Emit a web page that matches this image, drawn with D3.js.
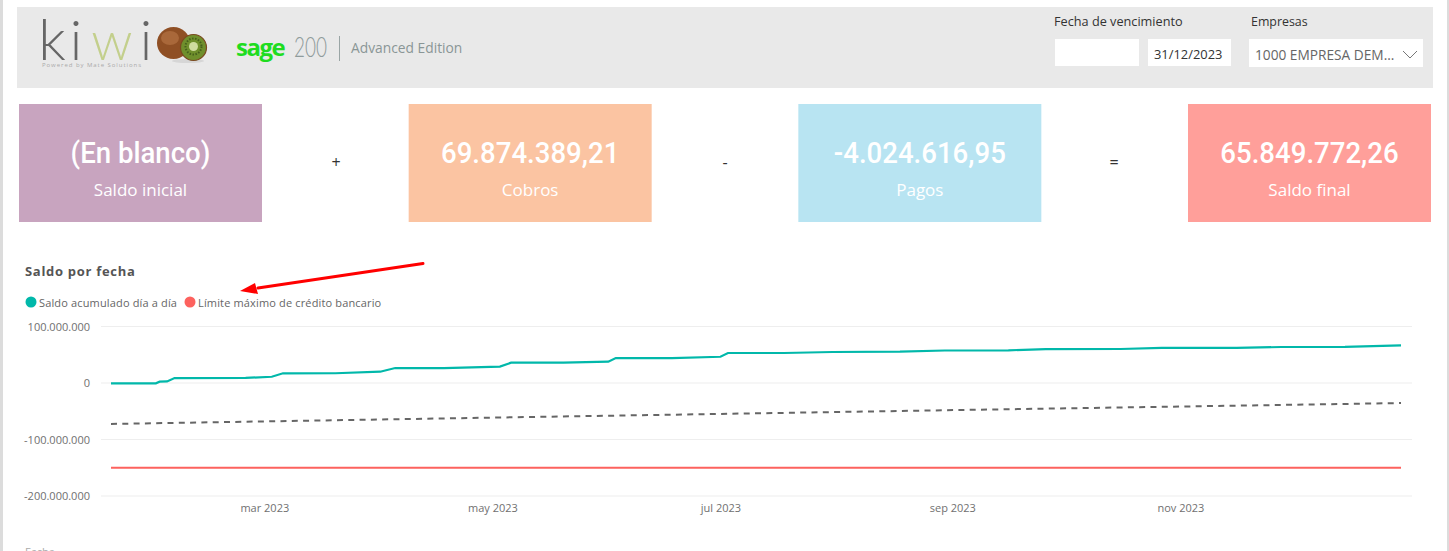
<!DOCTYPE html>
<html lang="es">

<head>
    <meta charset="UTF-8">
    <title>Saldo por fecha</title>
    <style>
        html, body { margin: 0; padding: 0; background: #fff; overflow: hidden; }
        svg { display: block; }
        .axis path, .axis line { display: none; }
        .axis text { font-family: "Open Sans", sans-serif; font-size: 11px; fill: #707070; }
    </style>
</head>

<body>
    <script src='https://d3js.org/d3.v7.min.js'></script>
    <script>
        // Data
        const cardTitles = ["Saldo inicial", "Cobros", "Pagos", "Saldo final"];
        const cardValues = ["(En blanco)", "69.874.389,21", "-4.024.616,95", "65.849.772,26"];
        const cardColors = ["#c8a4bf", "#fbc4a2", "#b8e4f2", "#ff9f9a"];
        const operators = ["+", "-", "="];

        const saldoDates = ["2023-01-19", "2023-01-31", "2023-02-01", "2023-02-03", "2023-02-05", "2023-02-24", "2023-03-03", "2023-03-06",
            "2023-03-20", "2023-04-01", "2023-04-05", "2023-04-18", "2023-04-28", "2023-05-03", "2023-05-06", "2023-05-20", "2023-06-01",
            "2023-06-03", "2023-06-18", "2023-07-01", "2023-07-03", "2023-07-18", "2023-07-31", "2023-08-18", "2023-08-30", "2023-09-16",
            "2023-09-26", "2023-10-16", "2023-10-27", "2023-11-16", "2023-11-28", "2023-12-15", "2023-12-30"];
        const saldoValues = [-0.5, -0.5, 2.3, 2.8, 8.8, 9, 11.1, 17.2,
            17.3, 20, 26.5, 26.5, 28, 29, 36, 36, 37.7,
            44.2, 44.2, 46.5, 53.1, 53.1, 54.9, 55.4, 57.5, 57.8,
            60, 60.2, 62, 62, 63.7, 63.9, 66.7];

        const trendDates = ["2023-01-19", "2023-04-28", "2023-09-03", "2023-12-30"];
        const trendValues = [-72.5, -61.6, -47.8, -35.5];

        const limiteDates = ["2023-01-19", "2023-12-30"];
        const limiteValues = [-150, -150];

        const yTicks = [100, 0, -100, -200];
        const yLabels = ["100.000.000", "0", "-100.000.000", "-200.000.000"];
        const xTicks = ["2023-03-01", "2023-05-01", "2023-07-01", "2023-09-01", "2023-11-01"];
        const xLabels = ["mar 2023", "may 2023", "jul 2023", "sep 2023", "nov 2023"];

        const legendNames = ["Saldo acumulado día a día", "Límite máximo de crédito bancario"];
        const legendColors = ["#01b8aa", "#fd625e"];

        const parseDay = d3.timeParse("%Y-%m-%d");
        const uiFont = '"Open Sans", sans-serif';

        const svg = d3.select("body").append("svg")
            .attr("width", 1449)
            .attr("height", 551);

        svg.append("rect").attr("width", 1449).attr("height", 551).attr("fill", "#fff");
        // window edges
        svg.append("rect").attr("x", 0).attr("width", 3).attr("height", 551).attr("fill", "#dcdcdc");
        svg.append("rect").attr("x", 1447).attr("width", 2).attr("height", 551).attr("fill", "#dcdcdc");

        // Header band
        svg.append("rect").attr("x", 17).attr("y", 7).attr("width", 1416).attr("height", 81).attr("fill", "#e9e9e9");

        // kiwi logo
        const logo = svg.append("g");
        [["k", 52, "#666", 58], ["i", 76, "#666", 56], ["w", 112, "#c3cf8c", 54], ["i", 146, "#666", 56]].forEach(l => {
            logo.append("text").attr("x", l[1]).attr("y", 60).attr("text-anchor", "middle")
                .attr("font-family", "Lato, sans-serif").attr("font-weight", 300).attr("font-size", l[3])
                .attr("fill", l[2]).text(l[0]);
        });
        logo.append("text").attr("x", 42).attr("y", 67).attr("font-family", uiFont).attr("font-size", 6)
            .attr("letter-spacing", 0.95).attr("fill", "#aaa").text("Powered by Mate Solutions");
        logo.append("ellipse").attr("cx", 188).attr("cy", 61).attr("rx", 16).attr("ry", 2).attr("fill", "#d6d6d6");
        logo.append("ellipse").attr("cx", 173.5).attr("cy", 43).attr("rx", 16.5).attr("ry", 16).attr("fill", "#8f4f24");
        logo.append("ellipse").attr("cx", 170).attr("cy", 38).attr("rx", 9).attr("ry", 7).attr("fill", "#a9683a");
        logo.append("circle").attr("cx", 193.5).attr("cy", 47.5).attr("r", 13).attr("fill", "#6f8f2c").attr("stroke", "#7a4a20").attr("stroke-width", 1.2);
        logo.append("circle").attr("cx", 193.5).attr("cy", 46.5).attr("r", 8).attr("fill", "none").attr("stroke", "#46601c").attr("stroke-width", 2).attr("stroke-dasharray", "1.5,1.5");
        logo.append("circle").attr("cx", 193.5).attr("cy", 46.5).attr("r", 4.5).attr("fill", "#cfdc9f");

        // sage logo
        logo.append("text").attr("x", 236).attr("y", 56).attr("font-family", uiFont).attr("font-weight", 700).attr("font-size", 24)
            .attr("letter-spacing", -1.5).attr("fill", "#1fdc1f").text("sage");
        logo.append("text").attr("x", 294).attr("y", 57).attr("font-family", "Lato, sans-serif").attr("font-weight", 300).attr("font-size", 27)
            .attr("textLength", 33).attr("lengthAdjust", "spacingAndGlyphs")
            .attr("fill", "#8f9b9b").text("200");
        logo.append("rect").attr("x", 339).attr("y", 36).attr("width", 1).attr("height", 25).attr("fill", "#9aa5a5");
        logo.append("text").attr("x", 351).attr("y", 53).attr("font-family", uiFont).attr("font-size", 13.8)
            .attr("fill", "#8a9696").text("Advanced Edition");

        // Slicers
        svg.append("text").attr("x", 1054).attr("y", 26).attr("font-family", uiFont).attr("font-size", 12.7).attr("fill", "#333").text("Fecha de vencimiento");
        svg.append("text").attr("x", 1251).attr("y", 26).attr("font-family", uiFont).attr("font-size", 12.4).attr("fill", "#333").text("Empresas");
        svg.append("rect").attr("x", 1055).attr("y", 39).attr("width", 84).attr("height", 27).attr("fill", "#fff");
        svg.append("rect").attr("x", 1148).attr("y", 39).attr("width", 83).attr("height", 27).attr("fill", "#fff");
        svg.append("text").attr("x", 1154).attr("y", 59).attr("font-family", uiFont).attr("font-size", 12.9).attr("fill", "#333").text("31/12/2023");
        svg.append("rect").attr("x", 1249).attr("y", 39).attr("width", 174).attr("height", 28).attr("fill", "#fff");
        svg.append("text").attr("x", 1255).attr("y", 60).attr("font-family", uiFont).attr("font-size", 13.7).attr("fill", "#666").text("1000 EMPRESA DEM...");
        svg.append("path").attr("d", "M1403,51 L1410,58 L1417,51").attr("fill", "none").attr("stroke", "#777").attr("stroke-width", 1);

        // KPI cards
        const cardX = d3.scaleLinear().domain([0, 3]).range([19, 1188]);
        const cards = svg.selectAll("g.card").data(cardTitles).enter().append("g")
            .attr("class", "card")
            .attr("transform", (d, i) => "translate(" + cardX(i) + ",104)");
        cards.append("rect").attr("width", 243).attr("height", 118).attr("fill", (d, i) => cardColors[i]);
        // the card figures are in a narrow face, so squeeze them sideways
        cards.append("text").attr("transform", "translate(121.5,59) scale(0.92,1)").attr("text-anchor", "middle")
            .attr("font-family", "Roboto, sans-serif").attr("font-weight", 500).attr("font-size", 30)
            .attr("fill", "#fff")
            .text((d, i) => cardValues[i]);
        cards.append("text").attr("x", 121.5).attr("y", 92).attr("text-anchor", "middle")
            .attr("font-family", uiFont).attr("font-size", 17).attr("fill", "#fff")
            .text(d => d);
        svg.selectAll("text.op").data(operators).enter().append("text")
            .attr("class", "op")
            .attr("x", (d, i) => [336, 725, 1114][i]).attr("y", 168).attr("text-anchor", "middle")
            .attr("font-family", uiFont).attr("font-size", 16).attr("fill", "#333")
            .text(d => d);

        // Chart title and legend
        svg.append("text").attr("x", 25).attr("y", 276).attr("font-family", uiFont).attr("font-weight", 700)
            .attr("font-size", 13).attr("letter-spacing", 0.7).attr("fill", "#555").text("Saldo por fecha");
        const legendX = [31, 190];
        legendNames.forEach((name, i) => {
            svg.append("circle").attr("cx", legendX[i]).attr("cy", 302).attr("r", 5.5).attr("fill", legendColors[i]);
            svg.append("text").attr("x", legendX[i] + 8).attr("y", 307).attr("font-family", uiFont).attr("font-size", 11)
                .attr("letter-spacing", 0.15).attr("fill", "#666").text(name);
        });

        // Scales
        const x = d3.scaleTime().domain([parseDay("2023-01-19"), parseDay("2023-12-30")]).range([111, 1401]);
        const y = d3.scaleLinear().domain([-200, 100]).range([496, 326.5]);

        // Gridlines
        svg.selectAll("line.grid").data(yTicks).enter().append("line")
            .attr("class", "grid")
            .attr("x1", 101).attr("x2", 1412)
            .attr("y1", d => y(d)).attr("y2", d => y(d))
            .attr("stroke", "#eeeeee").attr("stroke-width", 1.2);

        // Axes
        svg.append("g").attr("class", "axis")
            .attr("transform", "translate(90,0)")
            .call(d3.axisLeft(y).tickValues(yTicks).tickSize(0).tickPadding(0)
                .tickFormat((d, i) => yLabels[i]));
        svg.append("g").attr("class", "axis")
            .attr("transform", "translate(0,504)")
            .call(d3.axisBottom(x).tickValues(xTicks.map(parseDay)).tickSize(0).tickPadding(0)
                .tickFormat((d, i) => xLabels[i]));

        // Lines
        function drawLine(dates, values, color, width, dash) {
            const line = d3.line()
                .x((d, i) => x(parseDay(dates[i])))
                .y(d => y(d));
            svg.append("path")
                .datum(values)
                .attr("fill", "none")
                .attr("stroke", color)
                .attr("stroke-width", width)
                .attr("stroke-dasharray", dash)
                .attr("d", line);
        }
        drawLine(trendDates, trendValues, "#666666", 2, "6,5.3");
        drawLine(limiteDates, limiteValues, legendColors[1], 2, null);
        drawLine(saldoDates, saldoValues, legendColors[0], 2.2, null);

        // Annotation arrow
        svg.append("path").attr("d", "M423,263.5 L258,288").attr("fill", "none").attr("stroke", "#f00").attr("stroke-width", 3).attr("stroke-linecap", "round");
        svg.append("path").attr("d", "M240,291 L255,283 L258,294 Z").attr("fill", "#f00");

        // Next visual, cut at the bottom edge
        svg.append("text").attr("x", 25).attr("y", 556).attr("font-family", uiFont).attr("font-size", 11).attr("fill", "#aaa").text("Fecha");
    </script>
</body>

</html>
